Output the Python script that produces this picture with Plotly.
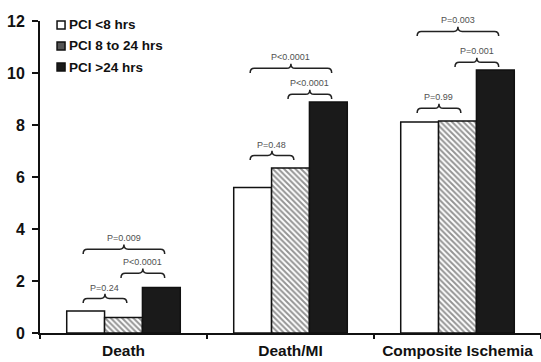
import plotly.graph_objects as go

categories = ["Death", "Death/MI", "Composite Ischemia"]
series_names = ["PCI <8 hrs", "PCI 8 to 24 hrs", "PCI >24 hrs"]
pci_lt8 = [0.85, 5.6, 8.12]
pci_8to24 = [0.6, 6.35, 8.15]
pci_gt24 = [1.75, 8.88, 10.12]
y_ticks = [0, 2, 4, 6, 8, 10, 12]

# p-value brackets: (category index, first bar, last bar, bracket base level, label)
p_brackets = [
    (0, 0, 1, 1.15, "P=0.24"),
    (0, 1, 2, 2.12, "P<0.0001"),
    (0, 0, 2, 3.04, "P=0.009"),
    (1, 0, 1, 6.65, "P=0.48"),
    (1, 1, 2, 9.0, "P<0.0001"),
    (1, 0, 2, 10.0, "P<0.0001"),
    (2, 0, 1, 8.46, "P=0.99"),
    (2, 1, 2, 10.23, "P=0.001"),
    (2, 0, 2, 11.42, "P=0.003"),
]

Y_MAX = 12
BARGAP = 0.32
bar_w = (1 - BARGAP) / 3
FONT = "Liberation Sans, Arial, sans-serif"
INK = "#111111"

fig = go.Figure()
styles = [
    dict(color="white"),
    dict(color="white", pattern=dict(shape="\\", fgcolor="#2a2a2a", bgcolor="white",
                                     size=4, solidity=0.5)),
    dict(color="#1a1a1a"),
]
for name, vals, st in zip(series_names, [pci_lt8, pci_8to24, pci_gt24], styles):
    fig.add_trace(go.Bar(
        x=categories, y=vals, name=name, showlegend=False,
        marker=dict(**st, line=dict(color=INK, width=1.5)),
    ))

# compact legend: small square swatches drawn on a linear overlay axis
legend_x = -0.374
legend_rows = [11.85, 11.04, 10.23]
swatch_fill = ["white", "#555555", "#1a1a1a"]
fig.add_trace(go.Scatter(
    x=[legend_x] * 3, y=legend_rows, xaxis="x2", mode="markers", showlegend=False,
    cliponaxis=False, hoverinfo="skip",
    marker=dict(symbol="square", size=8, color=swatch_fill, line=dict(color=INK, width=1.5)),
))
for name, yr in zip(series_names, legend_rows):
    fig.add_annotation(x=legend_x + 0.035, y=yr / Y_MAX, xref="x2", yref="paper",
                       text=name, showarrow=False, xanchor="left", yanchor="middle",
                       font=dict(family=FONT, size=13.5, color=INK, weight="bold"))


def brace_path(x0, x1, y, h=0.36, d=0.025):
    xm = (x0 + x1) / 2
    hh = h / 2
    return (f"M{x0},{y} Q{x0},{y+hh} {x0+d},{y+hh} L{xm-d},{y+hh} "
            f"Q{xm},{y+hh} {xm},{y+h} Q{xm},{y+hh} {xm+d},{y+hh} "
            f"L{x1-d},{y+hh} Q{x1},{y+hh} {x1},{y}")


for ci, b0, b1, yb, label in p_brackets:
    c0 = ci + (b0 - 1) * bar_w
    c1 = ci + (b1 - 1) * bar_w
    x0 = c0 - 0.015
    x1 = c1 + 0.02
    fig.add_shape(type="path", path=brace_path(x0, x1, yb), xref="x2", yref="y",
                  line=dict(color="#222222", width=1.5))
    fig.add_annotation(x=(x0 + x1) / 2, y=(yb + 0.6) / Y_MAX, xref="x2", yref="paper",
                       text=label, showarrow=False, yanchor="middle",
                       font=dict(family=FONT, size=9, color="#505050"))

fig.update_layout(
    width=541, height=362,
    margin=dict(l=40, r=0, t=21, b=29),
    paper_bgcolor="white", plot_bgcolor="white",
    barmode="group", bargap=BARGAP, bargroupgap=0,
    font=dict(family=FONT, color=INK),
    showlegend=False,
    xaxis=dict(type="category", range=[-0.5, 2.5], showline=True, linecolor=INK,
               linewidth=1.5, ticks="outside", tickson="boundaries", ticklen=4,
               tickcolor=INK, tickwidth=1.5, showgrid=False, ticklabelstandoff=3,
               automargin=False,
               tickfont=dict(family=FONT, size=15.5, color=INK, weight="bold")),
    xaxis2=dict(overlaying="x", range=[-0.5, 2.5], visible=False),
    yaxis=dict(range=[0, Y_MAX], tickvals=y_ticks, showline=True, linecolor=INK,
               linewidth=2, ticks="outside", ticklen=6, tickwidth=2, tickcolor=INK,
               showgrid=False, zeroline=False, ticklabelstandoff=4, automargin=False,
               tickfont=dict(family=FONT, size=16, color=INK, weight="bold")),
)

fig.write_html("out.html")
